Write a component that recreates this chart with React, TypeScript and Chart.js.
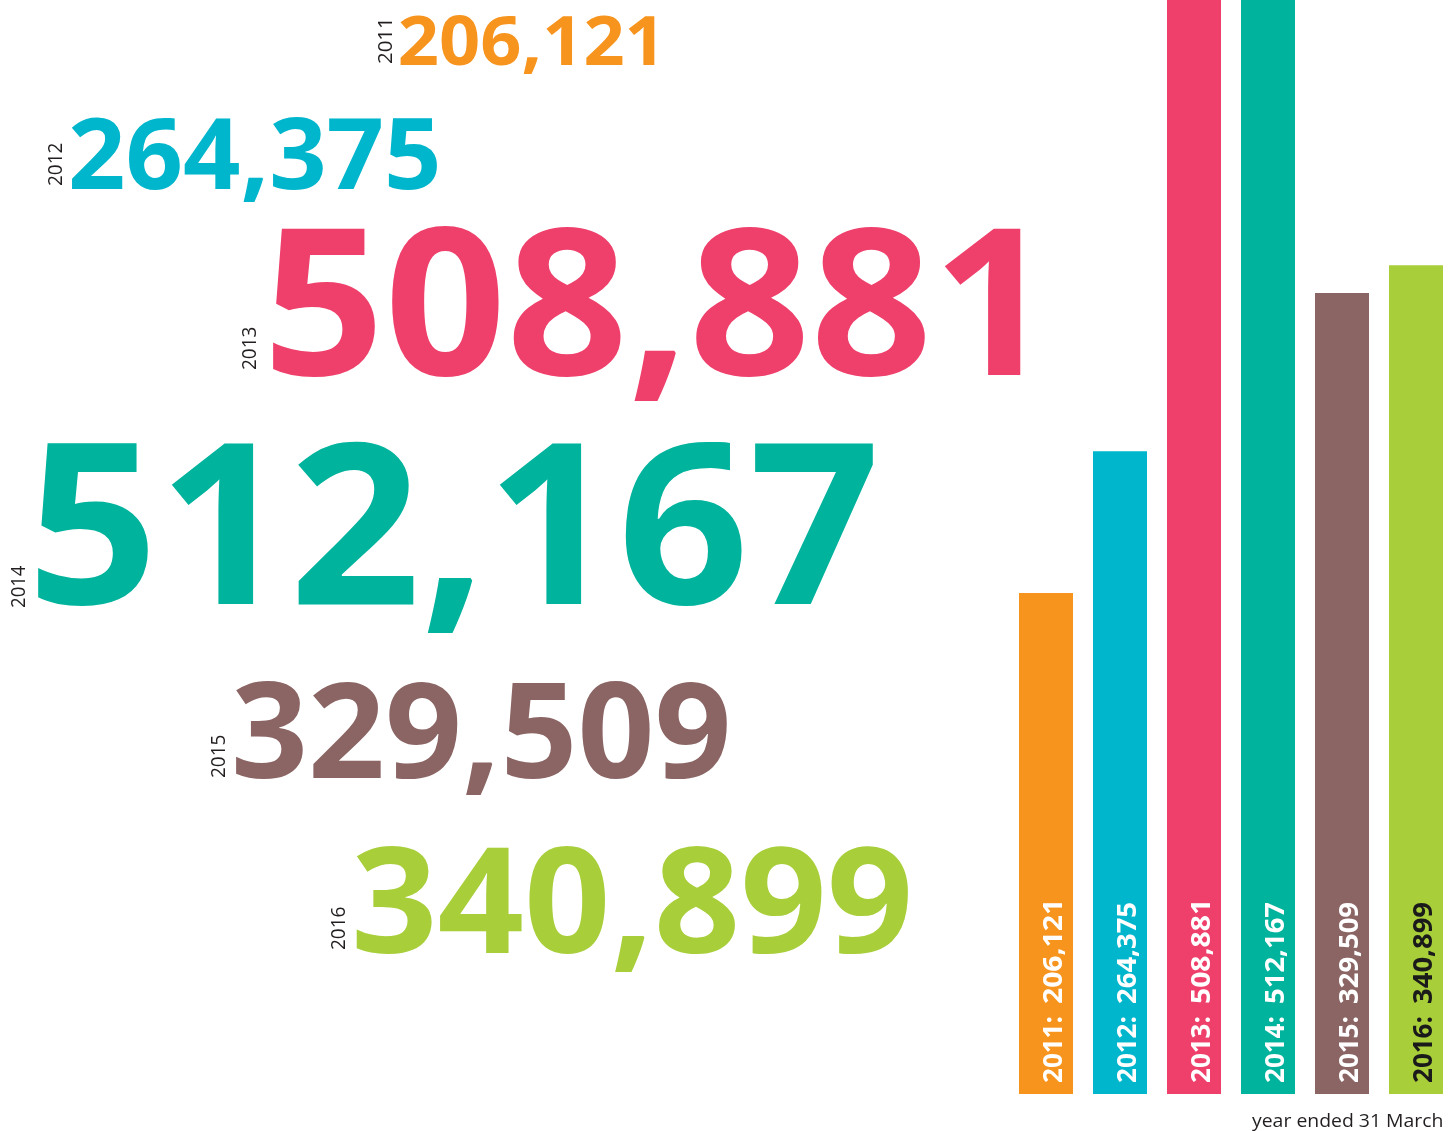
import React, { useEffect, useRef } from "react";
import { Chart, registerables } from "chart.js";

Chart.register(...registerables);

const years = ["2011", "2012", "2013", "2014", "2015", "2016"];
const values = [206121, 264375, 508881, 512167, 329509, 340899];
const barColors = ["#F7941D", "#00B6CC", "#EF406C", "#00B39D", "#8B6464", "#A8CE3A"];
const barLabelColors = ["#FFFFFF", "#FFFFFF", "#FFFFFF", "#FFFFFF", "#FFFFFF", "#1A1A1A"];
const yMax = 450000;
const footnote = "year ended 31 March";

// layout of the big figures (ink box): left, right, top, baseline
const bigLayout = [
  { l: 401, r: 655, t: 15, b: 65 },
  { l: 72, r: 437, t: 117, b: 189 },
  { l: 273, r: 1020, t: 226, b: 375 },
  { l: 38, r: 873, t: 440, b: 604 },
  { l: 236, r: 727, t: 681, b: 778 },
  { l: 357, r: 908, t: 845, b: 953 },
];
// year label: right edge x (rotated baseline), bottom y
const yearLayout = [
  { x: 392, y: 63 },
  { x: 62, y: 185 },
  { x: 256, y: 369 },
  { x: 25, y: 607 },
  { x: 225, y: 777 },
  { x: 345, y: 949 },
];

const FONT = '"Open Sans", "DejaVu Sans", sans-serif';

type Ink = { left: number; right: number; top: number };
const inkCache: Record<string, Ink> = {};
// exact ink bounds relative to anchor (textAlign left, alphabetic baseline)
function inkBounds(font: string, text: string, size: number): Ink {
  const key = font + "|" + text;
  if (inkCache[key]) return inkCache[key];
  const c = document.createElement("canvas");
  const pad = Math.ceil(size);
  const tmp = c.getContext("2d")!;
  tmp.font = font;
  const w = Math.ceil(tmp.measureText(text).width) + pad * 2;
  const h = Math.ceil(size * 2.2);
  c.width = w;
  c.height = h;
  const ctx = c.getContext("2d")!;
  ctx.font = font;
  ctx.textAlign = "left";
  ctx.textBaseline = "alphabetic";
  ctx.fillStyle = "#000";
  const base = Math.ceil(size * 1.4);
  ctx.fillText(text, pad, base);
  const d = ctx.getImageData(0, 0, w, h).data;
  let minX = w, maxX = -1, minY = h;
  for (let y = 0; y < h; y++) {
    for (let x = 0; x < w; x++) {
      if (d[(y * w + x) * 4 + 3] > 110) {
        if (x < minX) minX = x;
        if (x > maxX) maxX = x;
        if (y < minY) minY = y;
      }
    }
  }
  const res = { left: minX - pad, right: maxX + 1 - pad, top: base - minY };
  inkCache[key] = res;
  return res;
}

// draw text so its ink starts at 0, spans targetW, and (optionally) ink height targetH above baseline
function fitInk(ctx: CanvasRenderingContext2D, size: number, text: string, targetW: number, targetH?: number) {
  const ink = inkBounds(ctx.font, text, size);
  const sx = targetW / (ink.right - ink.left);
  const sy = targetH ? targetH / ink.top : 1;
  ctx.scale(sx, sy);
  ctx.fillText(text, -ink.left, 0);
}

const fmt = (v: number) => v.toLocaleString("en-US");

const overlayPlugin = {
  id: "overlay",
  afterDraw(chart: any) {
    const ctx: CanvasRenderingContext2D = chart.ctx;
    const meta = chart.getDatasetMeta(0);
    ctx.textAlign = "left";
    ctx.textBaseline = "alphabetic";
    values.forEach((v, i) => {
      const L = bigLayout[i];
      const size = Math.round((L.b - L.t) / 0.72);
      ctx.save();
      ctx.fillStyle = barColors[i];
      ctx.font = `700 ${size}px ${FONT}`;
      ctx.translate(L.l, L.b);
      fitInk(ctx, size, fmt(v), L.r - L.l, L.b - L.t);
      ctx.restore();

      const Y = yearLayout[i];
      ctx.save();
      ctx.fillStyle = "#231F20";
      ctx.font = `400 19px ${FONT}`;
      ctx.translate(Y.x, Y.y);
      ctx.rotate(-Math.PI / 2);
      fitInk(ctx, 19, years[i], 41, 14);
      ctx.restore();
    });
    meta.data.forEach((bar: any, i: number) => {
      const bottom = chart.chartArea.bottom;
      ctx.save();
      ctx.fillStyle = barLabelColors[i];
      ctx.font = `700 28px ${FONT}`;
      ctx.translate(bar.x + 16, bottom - 12);
      ctx.rotate(-Math.PI / 2);
      ctx.save();
      fitInk(ctx, 28, years[i] + ":", 64, 20);
      ctx.restore();
      ctx.translate(79, 0);
      fitInk(ctx, 28, fmt(values[i]), 100, 20);
      ctx.restore();
    });
    ctx.save();
    ctx.fillStyle = "#231F20";
    ctx.font = `400 19px ${FONT}`;
    ctx.translate(1252, 1127);
    fitInk(ctx, 19, footnote, 190);
    ctx.restore();
  },
};

export default function App() {
  const ref = useRef<HTMLCanvasElement>(null);
  useEffect(() => {
    if (!ref.current) return;
    const chart = new Chart(ref.current, {
      type: "bar",
      data: {
        labels: years,
        datasets: [
          {
            data: values,
            backgroundColor: barColors,
            borderWidth: 0,
            barPercentage: 54 / 74,
            categoryPercentage: 1,
          },
        ],
      },
      options: {
        responsive: false,
        animation: false,
        layout: { padding: { left: 1009, right: 0, top: 0, bottom: 37 } },
        plugins: { legend: { display: false }, tooltip: { enabled: false } },
        scales: {
          x: { display: false, offset: true },
          y: { display: false, min: 0, max: yMax },
        },
      },
      plugins: [overlayPlugin],
    });
    return () => chart.destroy();
  }, []);
  return (
    <div style={{ position: "absolute", left: 0, top: 0, width: 1453, height: 1131, background: "#fff" }}>
      <canvas ref={ref} width={1453} height={1131} style={{ display: "block" }} />
    </div>
  );
}
